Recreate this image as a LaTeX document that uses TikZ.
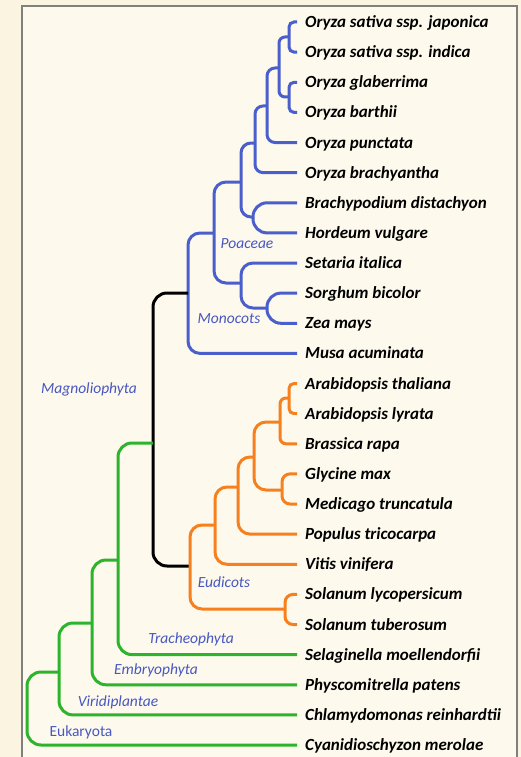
\documentclass[tikz,border=0pt]{standalone}
\usepackage{fontspec}
\setmainfont{Carlito}
\definecolor{bgout}{RGB}{251,244,225}
\definecolor{bgin}{RGB}{253,249,237}
\definecolor{frame}{RGB}{128,128,128}
\definecolor{cblue}{RGB}{74,95,204}
\definecolor{corange}{RGB}{247,128,30}
\definecolor{cgreen}{RGB}{44,180,44}
\definecolor{labblue}{RGB}{72,88,192}
\begin{document}
\begin{tikzpicture}[x=1pt,y=-1pt,
  leaf/.style={anchor=west, inner xsep=8pt, inner ysep=0pt, text height=14pt, text depth=3pt,
    font=\fontsize{17}{19}\selectfont\bfseries\itshape},
  clade/.style={inner sep=0pt, text=labblue, font=\fontsize{15.5}{17}\selectfont\itshape},
  bl/.style={line width=3pt, cblue},
  orr/.style={line width=3pt, corange},
  gr/.style={line width=3pt, cgreen},
  bk/.style={line width=3pt, black}]
\useasboundingbox (0,0) rectangle (521,757);
\clip (0,0) rectangle (521,757);
\fill[bgout] (0,0) rectangle (521,757);
\filldraw[fill=bgin, draw=frame, line width=2pt] (22,6) rectangle (517,790);

% leaves
\node[leaf] (l1)  at (297,22)    {Oryza sativa ssp. japonica};
\node[leaf] (l2)  at (297,52.1)  {Oryza sativa ssp. indica};
\node[leaf] (l3)  at (297,82.3)  {Oryza glaberrima};
\node[leaf] (l4)  at (297,112.4) {Oryza barthii};
\node[leaf] (l5)  at (297,142.5) {Oryza punctata};
\node[leaf] (l6)  at (297,172.6) {Oryza brachyantha};
\node[leaf] (l7)  at (297,202.8) {Brachypodium distachyon};
\node[leaf] (l8)  at (297,232.9) {Hordeum vulgare};
\node[leaf] (l9)  at (297,263)   {Setaria italica};
\node[leaf] (l10) at (297,293.1) {Sorghum bicolor};
\node[leaf] (l11) at (297,323.3) {Zea mays};
\node[leaf] (l12) at (297,353.4) {Musa acuminata};
\node[leaf] (l13) at (297,383.5) {Arabidopsis thaliana};
\node[leaf] (l14) at (297,413.6) {Arabidopsis lyrata};
\node[leaf] (l15) at (297,443.8) {Brassica rapa};
\node[leaf] (l16) at (297,473.9) {Glycine max};
\node[leaf] (l17) at (297,504)   {Medicago truncatula};
\node[leaf] (l18) at (297,534.1) {Populus tricocarpa};
\node[leaf] (l19) at (297,564.3) {Vitis vinifera};
\node[leaf] (l20) at (297,594.4) {Solanum lycopersicum};
\node[leaf] (l21) at (297,624.5) {Solanum tuberosum};
\node[leaf] (l22) at (297,654.6) {Selaginella moellendorfii};
\node[leaf] (l23) at (297,684.8) {Physcomitrella patens};
\node[leaf] (l24) at (297,714.9) {Chlamydomonas reinhardtii};
\node[leaf] (l25) at (297,745)   {Cyanidioschyzon merolae};

% internal nodes
\coordinate (n1) at (289,37);
\coordinate (n2) at (289,97);
\coordinate (n3) at (279,68);
\coordinate (n4) at (267,106);
\coordinate (n5) at (255,143);
\coordinate (n6) at (253,217);
\coordinate (n7) at (241,182);
\coordinate (n8) at (267,308);
\coordinate (n9) at (241,283);
\coordinate (n10) at (214,233);
\coordinate (n11) at (188,293);
\coordinate (n12) at (153,443);
\coordinate (e1) at (289,398);
\coordinate (e2) at (280,422);
\coordinate (e3) at (282,490);
\coordinate (e4) at (254,457);
\coordinate (e5) at (238,487);
\coordinate (e6) at (215,525);
\coordinate (e7) at (285,609);
\coordinate (e8) at (190,566);
\coordinate (g1) at (118,560);
\coordinate (g2) at (92,623);
\coordinate (g3) at (59,672);
\coordinate (g4) at (27,710);

% blue branches
\draw[bl, rounded corners=5pt] (l1.west) -| (n1 |- l2.west) -- (l2.west);
\draw[bl, rounded corners=5pt] (l3.west) -| (n2 |- l4.west) -- (l4.west);
\draw[bl, rounded corners=6pt] (n1) -| (n3 |- n2) -- (n2);
\draw[bl, rounded corners=8pt] (n3) -| (n4 |- l5.west) -- (l5.west);
\draw[bl, rounded corners=8pt] (n4) -| (n5 |- l6.west) -- (l6.west);
\draw[bl, rounded corners=14pt] (l7.west) -| (n6 |- l8.west) -- (l8.west);
\draw[bl, rounded corners=10pt] (n5) -| (n7 |- n6) -- (n6);
\draw[bl, rounded corners=14pt] (l10.west) -| (n8 |- l11.west) -- (l11.west);
\draw[bl, rounded corners=12pt] (l9.west) -| (n9 |- n8) -- (n8);
\draw[bl, rounded corners=12pt] (n7) -| (n10 |- n9) -- (n9);
\draw[bl, rounded corners=12pt] (n10) -| (n11 |- l12.west) -- (l12.west);
% black
\draw[bk, rounded corners=14pt] (n11) -| (n12 |- e8) -- (e8);
% orange
\draw[orr, rounded corners=5pt] (l13.west) -| (e1 |- l14.west) -- (l14.west);
\draw[orr, rounded corners=6pt] (e1) -| (e2 |- l15.west) -- (l15.west);
\draw[orr, rounded corners=8pt] (l16.west) -| (e3 |- l17.west) -- (l17.west);
\draw[orr, rounded corners=12pt] (e2) -| (e4 |- e3) -- (e3);
\draw[orr, rounded corners=12pt] (e4) -| (e5 |- l18.west) -- (l18.west);
\draw[orr, rounded corners=12pt] (e5) -| (e6 |- l19.west) -- (l19.west);
\draw[orr, rounded corners=8pt] (l20.west) -| (e7 |- l21.west) -- (l21.west);
\draw[orr, rounded corners=12pt] (e6) -| (e8 |- e7) -- (e7);
% green
\draw[gr, rounded corners=14pt] (n12) -| (g1 |- l22.west) -- (l22.west);
\draw[gr, rounded corners=14pt] (g1) -| (g2 |- l23.west) -- (l23.west);
\draw[gr, rounded corners=14pt] (g2) -| (g3 |- l24.west) -- (l24.west);
\draw[gr, rounded corners=14pt] (g3) -| (g4 |- l25.west) -- (l25.west);

% clade labels
\node[clade] (poa) at (247,244) {Poaceae};
\node[clade] (mon) at (229,319) {Monocots};
\node[clade] (mag) at (89,389) {Magnoliophyta};
\node[clade] (eud) at (224,582) {Eudicots};
\node[clade] (tra) at (191,639) {Tracheophyta};
\node[clade] (emb) at (156,670) {Embryophyta};
\node[clade] (vir) at (118,702) {Viridiplantae};
\node[clade, font=\fontsize{15.5}{17}\selectfont\upshape] (euk) at (81,732) {Eukaryota};
\end{tikzpicture}
\end{document}
